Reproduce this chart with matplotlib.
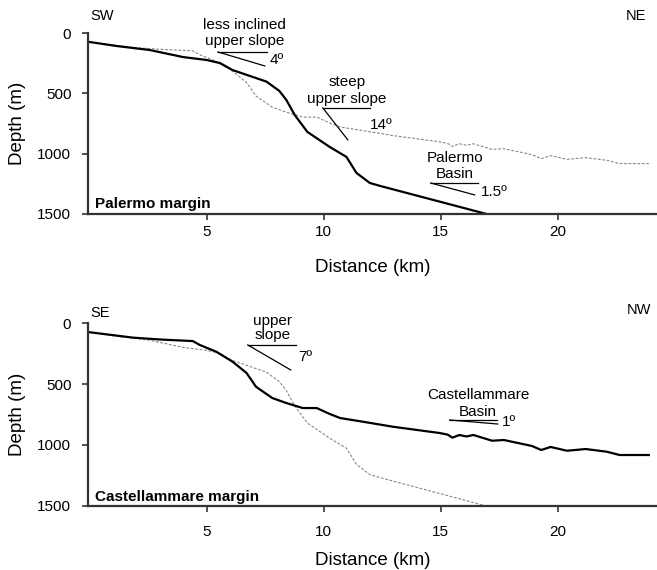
import matplotlib
matplotlib.use("Agg")
import matplotlib.pyplot as plt

plt.rcParams['font.family'] = ['Liberation Sans', 'DejaVu Sans']

# Palermo margin profile (km, m)
pal_km = [0, 1.15, 2.56, 3.97, 5.0, 5.56, 6.1, 7.55, 8.1, 8.4, 8.76, 9.3, 10.26, 10.97, 11.4, 11.97, 12.4, 16.96]
pal_depth = [75, 108, 141, 199, 224, 249, 307, 403, 480, 555, 680, 820, 945, 1027, 1160, 1243, 1267, 1500]

# Castellammare margin profile (km, m)
cas_km = [0, 1.85, 3.0, 4.4, 4.7, 5.4, 6.1, 6.7, 7.1, 7.8, 8.4, 9.1, 9.7, 10.26, 10.7, 11.67, 12.95,
          14.96, 15.3, 15.5, 15.8, 16.1, 16.4, 17.2, 17.7, 18.9, 19.3, 19.7, 20.4, 21.2, 22.1, 22.65, 23.9]
cas_depth = [76, 120, 135, 148, 180, 235, 317, 410, 522, 615, 656, 697, 697, 746, 779, 809, 850,
             902, 915, 940, 918, 930, 918, 965, 959, 1008, 1041, 1016, 1047, 1033, 1055, 1082, 1082]

xticks = [5, 10, 15, 20]
yticks = [0, 500, 1000, 1500]

fig = plt.figure(figsize=(6.57, 5.70), dpi=100)
ax1 = fig.add_axes([0.134, 0.6246, 0.866, 0.3175])
ax2 = fig.add_axes([0.134, 0.1123, 0.866, 0.321])

spine_col = '#333333'


def style(ax, xpad, xlabelpad):
    ax.set_xlim(-0.08, 24.25)
    ax.set_ylim(1500, 0)
    ax.set_xticks(xticks)
    ax.set_yticks(yticks)
    for s in ['top', 'right']:
        ax.spines[s].set_visible(False)
    for s in ['left', 'bottom']:
        ax.spines[s].set_linewidth(1.6)
        ax.spines[s].set_color(spine_col)
    ax.tick_params(axis='both', length=4, width=1.2, color=spine_col, labelsize=11)
    ax.tick_params(axis='y', pad=8)
    ax.tick_params(axis='x', pad=xpad)
    ax.set_xlabel('Distance (km)', fontsize=13.5, labelpad=xlabelpad)
    ax.set_ylabel('Depth (m)', fontsize=13.5, labelpad=8)


def angle(ax, x0, y0, x1, x2, y2):
    ax.plot([x0, x1], [y0, y0], color='black', lw=0.9, clip_on=False)
    ax.plot([x0, x2], [y0, y2], color='black', lw=0.9, clip_on=False)


# top panel: Palermo margin
ax1.plot(cas_km, cas_depth, color='#888888', lw=0.8, ls=(0, (2.5, 1.5)))
ax1.plot(pal_km, pal_depth, color='black', lw=1.6)
style(ax1, 4, 14)
ax1.text(0.0, -140, 'SW', fontsize=10.5, ha='left', va='center', clip_on=False)
ax1.text(23.8, -140, 'NE', fontsize=10.5, ha='right', va='center', clip_on=False)
ax1.text(0.2, 1420, 'Palermo margin', fontsize=11, fontweight='bold', ha='left', va='center')

ax1.text(6.62, -66, 'less inclined', fontsize=11, ha='center', va='center', clip_on=False)
ax1.text(6.62, 66, 'upper slope', fontsize=11, ha='center', va='center')
angle(ax1, 5.47, 157, 7.56, 7.48, 273)
ax1.text(7.7, 224, '4º', fontsize=11, ha='left', va='center')

ax1.text(11.0, 410, 'steep', fontsize=11, ha='center', va='center')
ax1.text(11.0, 547, 'upper slope', fontsize=11, ha='center', va='center')
angle(ax1, 9.96, 621, 11.97, 11.03, 886)
ax1.text(11.97, 762, '14º', fontsize=11, ha='left', va='center')

ax1.text(15.6, 1040, 'Palermo', fontsize=11, ha='center', va='center')
ax1.text(15.6, 1172, 'Basin', fontsize=11, ha='center', va='center')
angle(ax1, 14.57, 1243, 16.58, 16.45, 1342)
ax1.text(16.7, 1317, '1.5º', fontsize=11, ha='left', va='center')

# bottom panel: Castellammare margin
ax2.plot(pal_km, pal_depth, color='#888888', lw=0.8, ls=(0, (2.5, 1.5)))
ax2.plot(cas_km, cas_depth, color='black', lw=1.6)
style(ax2, 10, 9)
ax2.text(0.0, -80, 'SE', fontsize=10.5, ha='left', va='center', clip_on=False)
ax2.text(24.0, -105, 'NW', fontsize=10.5, ha='right', va='center', clip_on=False)
ax2.text(0.2, 1426, 'Castellammare margin', fontsize=11, fontweight='bold', ha='left', va='center')

ax2.text(7.82, -20, 'upper', fontsize=11, ha='center', va='center', clip_on=False)
ax2.text(7.82, 98, 'slope', fontsize=11, ha='center', va='center')
angle(ax2, 6.75, 180, 8.8, 8.59, 385)
ax2.text(8.9, 279, '7º', fontsize=11, ha='left', va='center')

ax2.text(16.6, 590, 'Castellammare', fontsize=11, ha='center', va='center')
ax2.text(16.6, 730, 'Basin', fontsize=11, ha='center', va='center')
angle(ax2, 15.38, 795, 17.4, 17.44, 828)
ax2.text(17.6, 811, '1º', fontsize=11, ha='left', va='center')

fig.savefig('out.png', dpi=100)
